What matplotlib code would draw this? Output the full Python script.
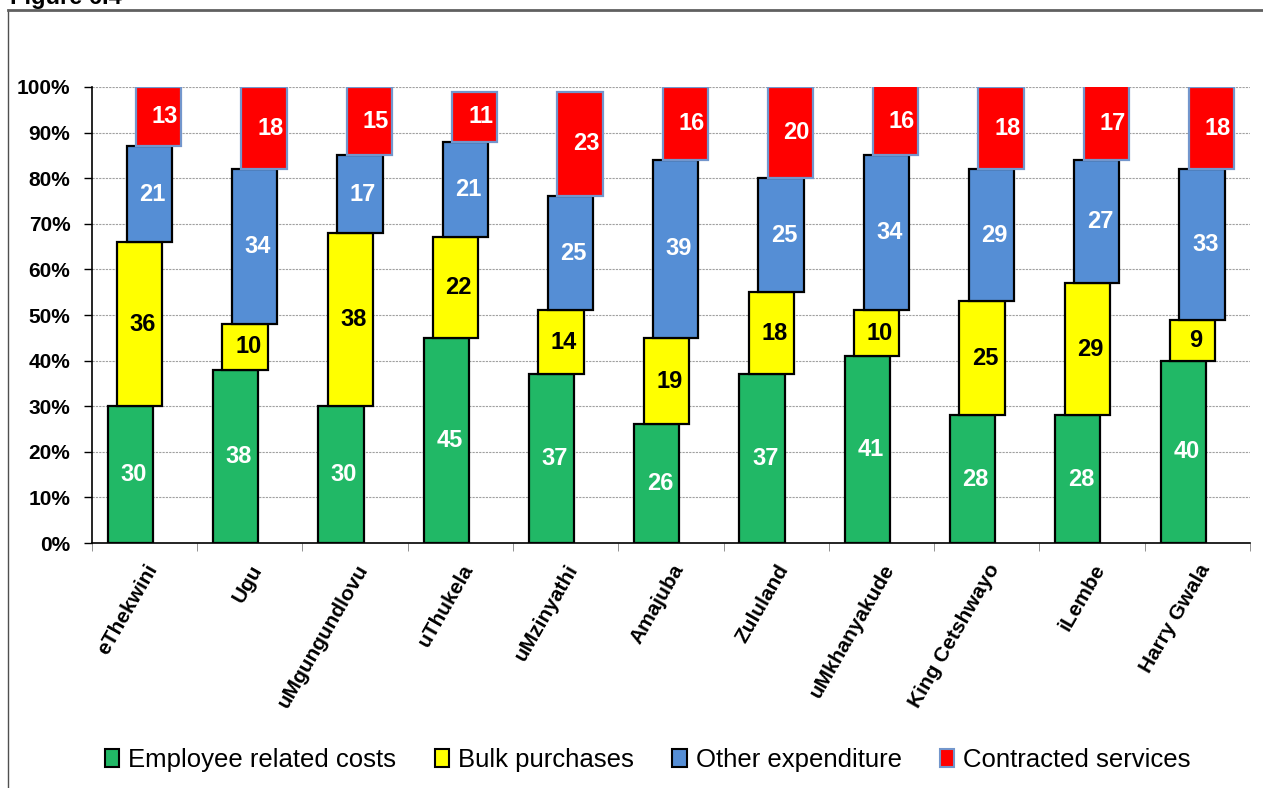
import numpy as np
import matplotlib
matplotlib.use("Agg")
import matplotlib.pyplot as plt
from matplotlib.lines import Line2D
from matplotlib.patches import Patch

plt.rcParams['font.family'] = ['Liberation Sans', 'DejaVu Sans']

# municipalities and expenditure shares (%)
districts = ["eThekwini", "Ugu", "uMgungundlovu", "uThukela", "uMzinyathi",
             "Amajuba", "Zululand", "uMkhanyakude", "King Cetshwayo", "iLembe",
             "Harry Gwala"]
employee = [30, 38, 30, 45, 37, 26, 37, 41, 28, 28, 40]
bulk = [36, 10, 38, 22, 14, 19, 18, 10, 25, 29, 9]
other = [21, 34, 17, 21, 25, 39, 25, 34, 29, 27, 33]
contracted = [13, 18, 15, 11, 23, 16, 20, 16, 18, 17, 18]

series = [
    ("Employee related costs", employee, "#21b866", "black", "white"),
    ("Bulk purchases", bulk, "#ffff00", "black", "black"),
    ("Other expenditure", other, "#558ed5", "black", "white"),
    ("Contracted services", contracted, "#ff0000", "#7396cc", "white"),
]

fig = plt.figure(figsize=(12.63, 7.88), dpi=100)
ax = fig.add_axes([0.0728, 0.3109, 0.9169, 0.5787])

x = np.arange(len(districts))
width = 0.43
step = 0.09
bottom = np.zeros(len(districts))
for k, (name, vals, fc, ec, tc) in enumerate(series):
    vals = np.array(vals, dtype=float)
    pos = x + (k - 1.5) * step
    ax.bar(pos, vals, width, bottom=bottom, color=fc, edgecolor=ec,
           linewidth=1.6, zorder=3)
    dx = 0.06 if k == 3 else 0.03
    for xi, b, v in zip(pos, bottom, vals):
        top = min(b + v, 100)
        ax.text(xi + dx, (b + top) / 2, f"{int(v)}", ha="center",
                va="center", color=tc, fontsize=17, fontweight="bold",
                family=["Liberation Sans Narrow", "Liberation Sans"],
                zorder=4)
    bottom += vals

ax.set_xlim(-0.5, len(districts) - 0.5)
ax.set_ylim(0, 100)
ax.set_yticks(np.arange(0, 101, 10))
ax.set_yticklabels([f"{v}%" for v in range(0, 101, 10)], fontsize=15,
                   fontweight="bold")
ax.yaxis.grid(True, color="#a0a0a0", linestyle=(0, (2, 1)), linewidth=0.8,
              zorder=0)
ax.set_axisbelow(True)

ax.set_xticks(x)
ax.set_xticklabels(districts, rotation=60, ha="right", rotation_mode="anchor",
                   fontsize=15, fontweight="bold")
ax.tick_params(axis="x", which="major", length=0, pad=13)
ax.set_xticks(np.arange(-0.5, len(districts)), minor=True)
ax.tick_params(axis="x", which="minor", length=6, color="#808080")
ax.tick_params(axis="y", length=6, width=1, pad=9.5)

for s in ["top", "right"]:
    ax.spines[s].set_visible(False)
ax.spines["left"].set_linewidth(1.2)
ax.spines["bottom"].set_linewidth(1.2)

handles = [Patch(facecolor=fc, edgecolor=ec, linewidth=1.5, label=name)
           for name, vals, fc, ec, tc in series]
fig.legend(handles=handles, loc="center", bbox_to_anchor=(0.513, 0.036),
           ncol=4, frameon=False, fontsize=18.5, handlelength=0.55,
           handleheight=0.7, handletextpad=0.35, columnspacing=1.5)

# outer frame (left and top edges) and heading
fig.add_artist(Line2D([8 / 1263, 8 / 1263], [0, 1 - 10 / 788],
                      transform=fig.transFigure, color="#505050", lw=1))
fig.add_artist(Line2D([8 / 1263, 1], [1 - 10 / 788, 1 - 10 / 788],
                      transform=fig.transFigure, color="#606060", lw=2))
fig.text(10 / 1263, 1 - 4 / 788, "Figure 6.4", ha="left", va="baseline",
         fontsize=17, fontweight="bold")

fig.savefig("out.png", dpi=100)
